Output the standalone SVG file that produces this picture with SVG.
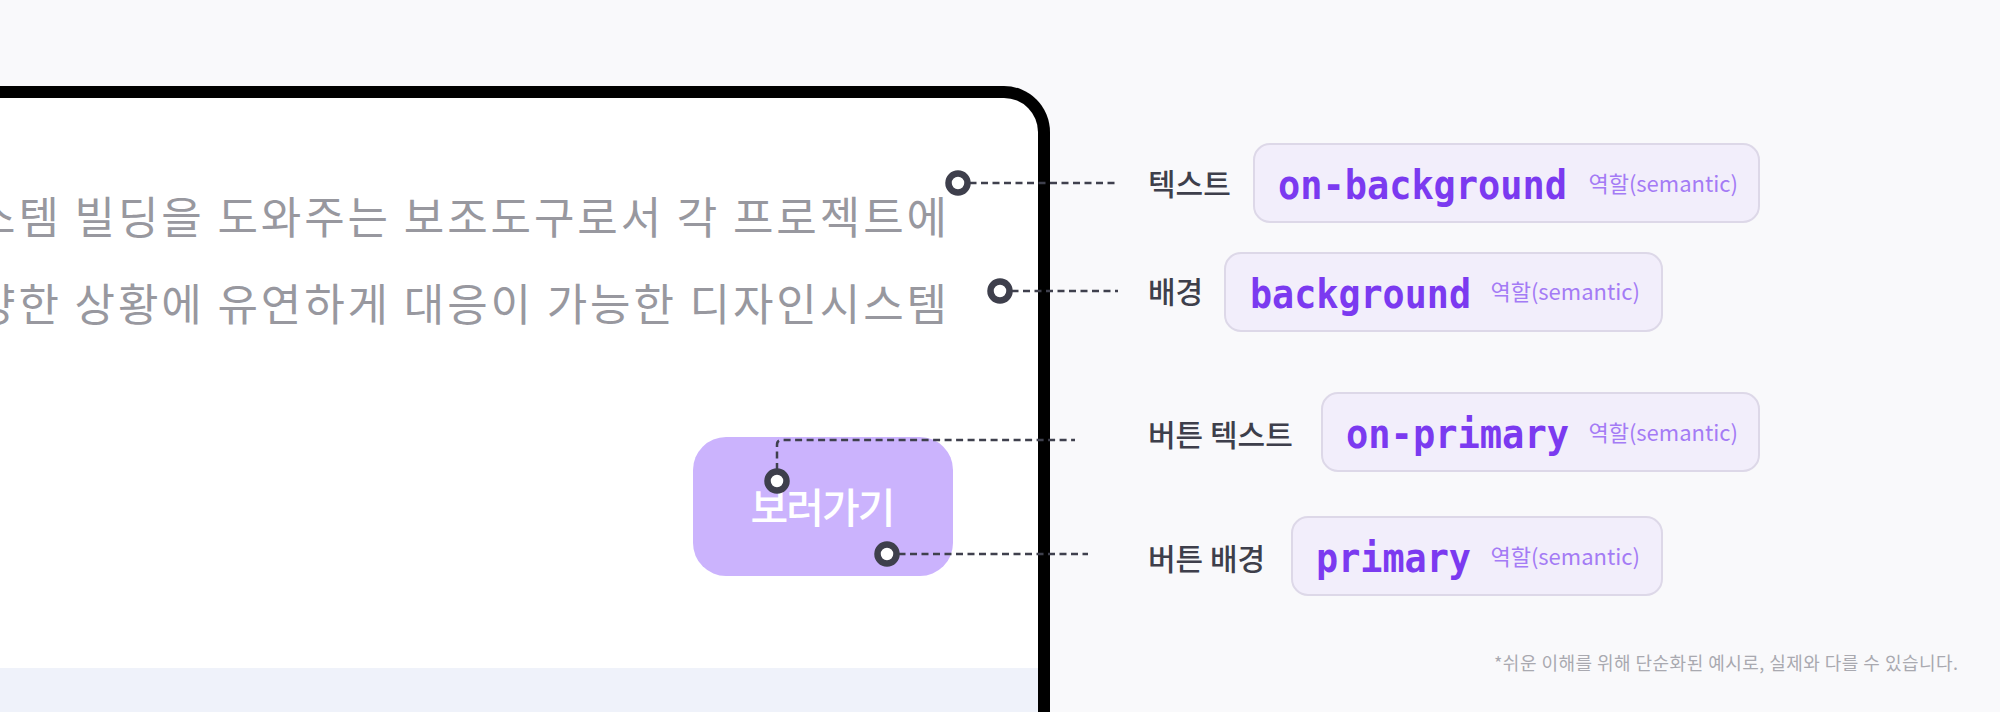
<svg xmlns="http://www.w3.org/2000/svg" width="2000" height="712" viewBox="0 0 2000 712">
  <style>
    .body { font-family: "Noto Sans CJK KR", "Noto Sans", sans-serif; font-size: 44px; fill: #98989F; }
    .btn { font-family: "Noto Sans CJK KR", "Noto Sans", sans-serif; font-size: 41px; font-weight: 500; fill: #FFFFFF; }
    .label { font-family: "Noto Sans CJK KR", "Noto Sans", sans-serif; font-size: 30px; font-weight: 500; fill: #3E3F4B; }
    .chip { fill: #F2EEFB; stroke: #DDD8E8; stroke-width: 2; }
    .mono { font-family: "DejaVu Sans Mono", "Liberation Mono", monospace; font-size: 41px; font-weight: bold; fill: #7B3AF0; }
    .sem { font-family: "Noto Sans CJK KR", "Noto Sans", sans-serif; font-size: 22px; fill: #A47BF5; }
    .note { font-family: "Noto Sans CJK KR", "Noto Sans", sans-serif; font-size: 18px; fill: #A9A9B0; }
    .conn { fill: none; stroke: #3F404D; stroke-width: 2.5; stroke-dasharray: 7 4.5; }
    .dot { fill: #FFFFFF; stroke: #3E3F4C; stroke-width: 6.5; }
  </style>

  <rect x="0" y="0" width="2000" height="712" fill="#F9F9FB"/>

  <g id="frame">
    <rect x="-100" y="86" width="1150" height="800" rx="46" fill="#000000"/>
    <rect x="-100" y="98" width="1138" height="800" rx="34" fill="#FFFFFF"/>
    <rect x="-100" y="668" width="1138" height="60" fill="#EFF2FA"/>
    <text class="body" x="-25" y="234" textLength="972">스템 빌딩을 도와주는 보조도구로서 각 프로젝트에</text>
    <text class="body" x="-25" y="321" textLength="972">양한 상황에 유연하게 대응이 가능한 디자인시스템</text>
  </g>

  <g id="button">
    <rect x="693" y="437" width="260" height="139" rx="33" fill="#CBB3FD"/>
    <text class="btn" x="822" y="523" text-anchor="middle" letter-spacing="-2">보러가기</text>
  </g>

  <g id="connectors">
    <path class="conn" d="M958 183 H1118"/>
    <path class="conn" d="M1000 291 H1118"/>
    <path class="conn" d="M777 470 V445 Q777 440 782 440 H1075"/>
    <path class="conn" d="M887 554 H1088"/>
    <circle class="dot" cx="958" cy="183" r="9.5"/>
    <circle class="dot" cx="1000" cy="291" r="9.5"/>
    <circle class="dot" cx="777" cy="481" r="9.5"/>
    <circle class="dot" cx="887" cy="554" r="9.5"/>
  </g>

  <g id="node-text">
    <text class="label" x="1148" y="195">텍스트</text>
    <rect class="chip" x="1254" y="144" width="505" height="78" rx="16"/>
    <text class="mono" x="1278" y="199" textLength="289" lengthAdjust="spacingAndGlyphs">on-background</text>
    <text class="sem" x="1738" y="192" text-anchor="end">역할(semantic)</text>
  </g>

  <g id="node-background">
    <text class="label" x="1148" y="303">배경</text>
    <rect class="chip" x="1225" y="253" width="437" height="78" rx="16"/>
    <text class="mono" x="1250" y="308" textLength="221" lengthAdjust="spacingAndGlyphs">background</text>
    <text class="sem" x="1640" y="300" text-anchor="end">역할(semantic)</text>
  </g>

  <g id="node-button-text">
    <text class="label" x="1148" y="446">버튼 텍스트</text>
    <rect class="chip" x="1322" y="393" width="437" height="78" rx="16"/>
    <text class="mono" x="1346" y="448" textLength="223" lengthAdjust="spacingAndGlyphs">on-primary</text>
    <text class="sem" x="1738" y="441" text-anchor="end">역할(semantic)</text>
  </g>

  <g id="node-button-bg">
    <text class="label" x="1148" y="570">버튼 배경</text>
    <rect class="chip" x="1292" y="517" width="370" height="78" rx="16"/>
    <text class="mono" x="1316" y="572" textLength="155" lengthAdjust="spacingAndGlyphs">primary</text>
    <text class="sem" x="1640" y="565" text-anchor="end">역할(semantic)</text>
  </g>

  <text class="note" x="1958" y="670" text-anchor="end" textLength="464">*쉬운 이해를 위해 단순화된 예시로, 실제와 다를 수 있습니다.</text>
</svg>
